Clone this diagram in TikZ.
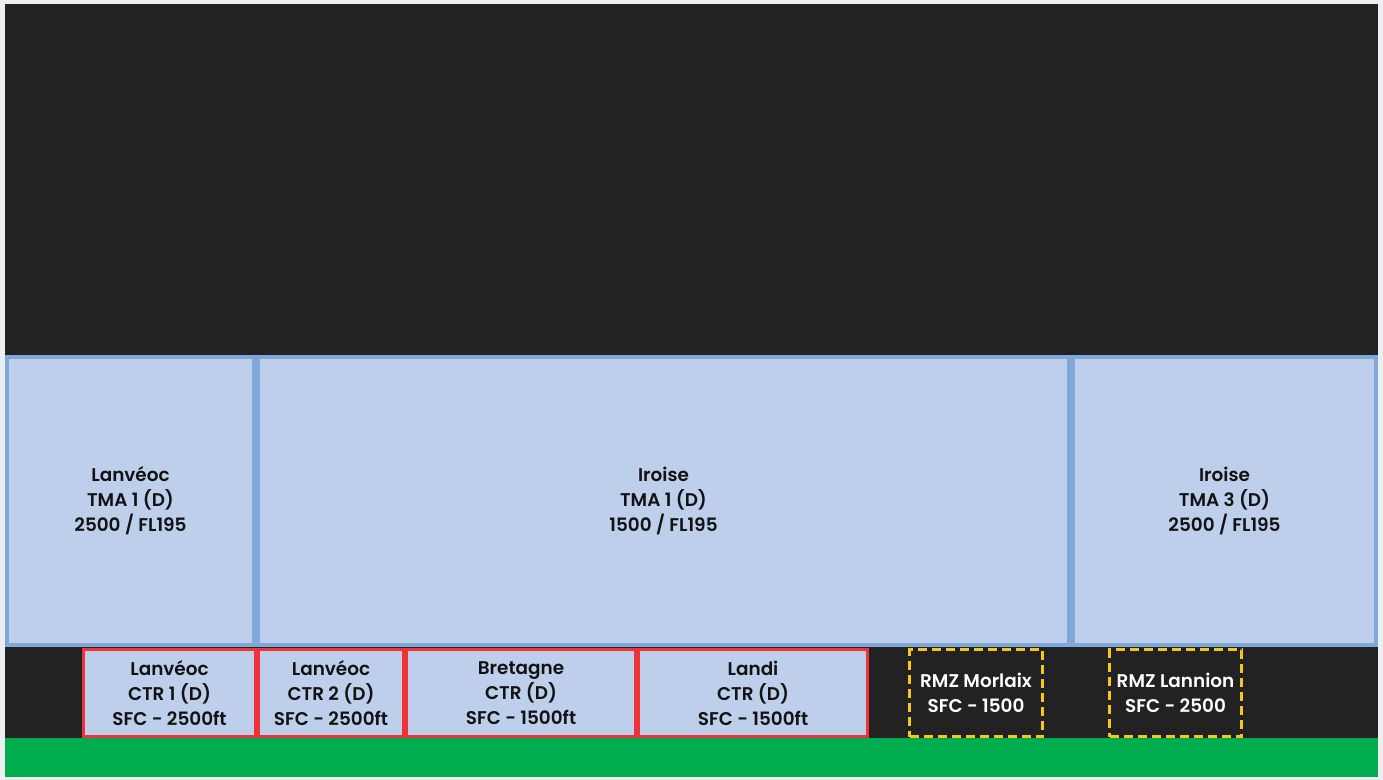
\documentclass[tikz,border=0pt]{standalone}
\usepackage{fontspec}
\setmainfont{Poppins}[UprightFont=* SemiBold]
\usetikzlibrary{positioning}
\definecolor{pagegray}{HTML}{ECEEF1}
\definecolor{skydark}{HTML}{222222}
\definecolor{tmafill}{HTML}{BDCFEA}
\definecolor{tmaedge}{HTML}{7FA7DA}
\definecolor{ctredge}{HTML}{EE3338}
\definecolor{rmzedge}{HTML}{F7C520}
\definecolor{ground}{HTML}{00AD4E}
\def\pxu{0.75pt}

\begin{document}
\begin{tikzpicture}[x=0.75pt,y=-0.75pt,
every node/.style={font=\fontsize{13.8}{18.75}\selectfont,align=center,
  inner sep=0pt,outer sep=0pt,text=black!93},
tma/.style={draw=tmaedge,fill=tmafill,line width=3pt,minimum height=288*\pxu},
ctr/.style={draw=ctredge,fill=tmafill,line width=2.25pt,minimum height=87*\pxu},
rmz/.style={draw=rmzedge,line width=2.25pt,dash pattern=on 6.75pt off 3.75pt,
  minimum height=87*\pxu,text=white}]
% background
\fill[pagegray] (0,0) rectangle (1383,780);
\useasboundingbox (0,0) rectangle (1383,780);
\fill[skydark] (5,4) rectangle (1378,777);
\fill[ground] (5,738) rectangle (1378,777);
% TMA row
\node[tma,minimum width=247*\pxu] (lvtma) at (130.5,501) {Lanvéoc\\TMA 1 (D)\\2500 / FL195};
\node[tma,minimum width=811*\pxu] (irtma1) at (663.5,501) {Iroise\\TMA 1 (D)\\1500 / FL195};
\node[tma,minimum width=303*\pxu] (irtma3) at (1224.5,501) {Iroise\\TMA 3 (D)\\2500 / FL195};
% CTR row
\node[ctr,minimum width=172*\pxu] (lvctr1) at (169.5,693) {Lanvéoc\\CTR 1 (D)\\SFC - 2500ft};
\node[ctr,minimum width=145*\pxu] (lvctr2) at (331,693) {Lanvéoc\\CTR 2 (D)\\SFC - 2500ft};
\node[ctr,minimum width=229*\pxu] (brctr) at (521,693) {Bretagne\\CTR (D)\\SFC - 1500ft};
\node[ctr,minimum width=229*\pxu] (ldctr) at (753,693) {Landi\\CTR (D)\\SFC - 1500ft};
% RMZ
\node[rmz,minimum width=133*\pxu] (rmzmx) at (976,693) {RMZ Morlaix\\SFC - 1500};
\node[rmz,minimum width=132*\pxu] (rmzln) at (1175.5,693) {RMZ Lannion\\SFC - 2500};
\end{tikzpicture}
\end{document}
